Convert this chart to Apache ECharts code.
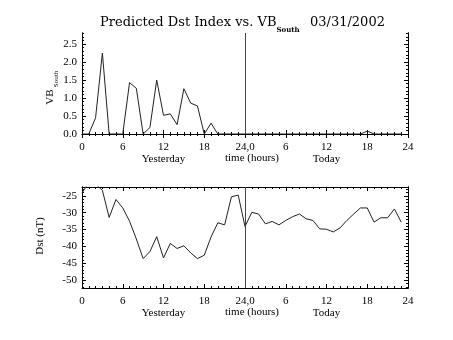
<!DOCTYPE html>
<html>
<head>
<meta charset="utf-8">
<script src="https://cdn.jsdelivr.net/npm/echarts@6/dist/echarts.min.js"></script>
<style>html,body{margin:0;padding:0;background:#fff;}#c{width:453px;height:340px;}</style>
</head>
<body>
<div id="c"></div>
<script>
// hours since start of yesterday (0..47)
var hours = [];
for (var i = 0; i < 48; i++) hours.push(i);
var vbSouth = [0, 0, 0.45, 2.25, 0, 0, 0, 1.43, 1.27, 0, 0.18, 1.5, 0.52, 0.56, 0.26, 1.26, 0.86, 0.78, 0, 0.3,
  0, 0, 0, 0, 0, 0, 0, 0, 0, 0, 0, 0, 0, 0, 0, 0, 0, 0, 0, 0, 0, 0, 0.08, 0, 0, 0, 0, 0];
var dst = [-24.2, -21, -21.5, -23.4, -31.4, -26.1, -28.6, -32.5, -37.8, -43.6, -41.5, -37.1, -43.4, -39.1, -40.6, -39.8,
  -41.9, -43.6, -42.6, -37.2, -33, -33.6, -25.3, -24.8, -34.1, -29.9, -30.4, -33.3, -32.6, -33.6, -32.3, -31.2,
  -30.4, -31.8, -32.3, -34.8, -34.9, -35.7, -34.5, -32.3, -30.4, -28.6, -28.6, -32.8, -31.5, -31.5, -28.9, -32.8];
var vbTicks = [0, 0.5, 1.0, 1.5, 2.0, 2.5];
var vbMinor = [];
for (var v = 0; v <= 28; v++) vbMinor.push(v / 10);
var dstTicks = [-50, -45, -40, -35, -30, -25];
var dstMinor = [];
for (var d = -52; d <= -23; d++) dstMinor.push(d);
var xTitle = 'time (hours)';
var dayLabels = ['Yesterday', 'Today'];
var titleMain = 'Predicted Dst Index vs. VB';
var titleSub = 'South';
var titleDate = '03/31/2002';

var FONT = 'Liberation Serif';
var TFONT = 'DejaVu Serif';
var lineCol = '#000';

function measure(text, font) {
  var cv = document.createElement('canvas').getContext('2d');
  cv.font = font;
  return cv.measureText(text).width;
}
var titleFont = '13px "' + TFONT + '"';
var titleW = measure(titleMain, titleFont);

function xLabel(v) {
  if (v === 24) return '24,0';
  if (v === 12) return '12\n' + dayLabels[0];
  if (v === 36) return '12\n' + dayLabels[1];
  return String(v > 24 ? v - 24 : v);
}

function xAxes(grid) {
  var base = {
    gridIndex: grid, type: 'value', min: 0, max: 48, interval: 6,
    axisLine: {show: true, lineStyle: {color: lineCol, width: 1}},
    axisTick: {show: true, inside: true, length: 4, lineStyle: {color: lineCol}},
    minorTick: {show: true, splitNumber: 6, length: 2, lineStyle: {color: lineCol}},
    splitLine: {show: false}
  };
  var bottom = echarts.util.merge({
    position: 'bottom',
    axisLabel: {show: true, formatter: xLabel, color: '#000', fontFamily: FONT, fontSize: 11, margin: 7,
      lineHeight: 12, verticalAlign: 'top', hideOverlap: false, showMinLabel: true, showMaxLabel: true},
    name: xTitle, nameLocation: 'middle', nameGap: 19, nameMoveOverlap: false,
    nameTextStyle: {color: '#000', fontFamily: FONT, fontSize: 11, verticalAlign: 'top', padding: [0, 0, 0, 14]}
  }, base, true);
  var top = echarts.util.merge({position: 'top', axisLabel: {show: false}}, base, true);
  return [bottom, top];
}

function yAxes(grid, min, max, majors, minors, fmt) {
  var common = {
    gridIndex: grid, type: 'value', min: min, max: max,
    axisLine: {show: true, lineStyle: {color: lineCol, width: 1}},
    splitLine: {show: false}
  };
  var out = [];
  ['left', 'right'].forEach(function (pos) {
    out.push(echarts.util.merge({
      position: pos,
      axisTick: {show: true, inside: true, length: 4, customValues: majors, lineStyle: {color: lineCol}},
      axisLabel: pos === 'left'
        ? {show: true, customValues: majors, formatter: fmt, color: '#000', fontFamily: FONT, fontSize: 11, margin: 5}
        : {show: false}
    }, common, true));
    out.push(echarts.util.merge({
      position: pos,
      axisTick: {show: true, inside: true, length: 2, customValues: minors, lineStyle: {color: lineCol}},
      axisLabel: {show: false}
    }, common, true));
  });
  return out;
}

var xs = xAxes(0).concat(xAxes(1));
var ys = yAxes(0, 0, 2.81, vbTicks, vbMinor, function (v) { return v.toFixed(1); })
  .concat(yAxes(1, -52.3, -22.4, dstTicks, dstMinor, function (v) { return String(v); }));

function pairs(vals) { return hours.map(function (h, i) { return [h, vals[i]]; }); }

var midLine = {
  silent: true, symbol: ['none', 'none'], label: {show: false},
  lineStyle: {color: '#444', width: 1, type: 'solid'},
  data: [{xAxis: 24}]
};

var chart = echarts.init(document.getElementById('c'), null, {renderer: 'canvas'});
chart.setOption({
  animation: false,
  backgroundColor: '#fff',
  grid: [
    {left: 82, top: 33, width: 326, height: 101},
    {left: 82, top: 187, width: 326, height: 101}
  ],
  xAxis: xs,
  yAxis: ys,
  series: [
    {type: 'line', xAxisIndex: 0, yAxisIndex: 0, data: pairs(vbSouth), showSymbol: false, clip: true,
      lineStyle: {color: '#222', width: 1}, markLine: midLine},
    {type: 'line', xAxisIndex: 2, yAxisIndex: 4, data: pairs(dst), showSymbol: false, clip: true,
      lineStyle: {color: '#222', width: 1}, markLine: midLine}
  ],
  graphic: [
    {type: 'text', left: 100, top: 16, style: {text: titleMain, font: titleFont, fill: '#000'}},
    {type: 'text', left: 100 + titleW, top: 27, style: {text: titleSub, font: 'bold 7px "' + TFONT + '"', fill: '#000'}},
    {type: 'text', left: 310, top: 16, style: {text: titleDate, font: titleFont, fill: '#000'}},
    {type: 'text', x: 50, y: 97, rotation: Math.PI / 2,
      style: {text: 'VB', font: '11px "' + FONT + '"', fill: '#000', align: 'center', verticalAlign: 'middle'}},
    {type: 'text', x: 56, y: 79, rotation: Math.PI / 2,
      style: {text: 'South', font: '7px "' + FONT + '"', fill: '#000', align: 'center', verticalAlign: 'middle'}},
    {type: 'text', x: 40, y: 236, rotation: Math.PI / 2,
      style: {text: 'Dst (nT)', font: '11px "' + FONT + '"', fill: '#000', align: 'center', verticalAlign: 'middle'}}
  ]
});
</script>
</body>
</html>
